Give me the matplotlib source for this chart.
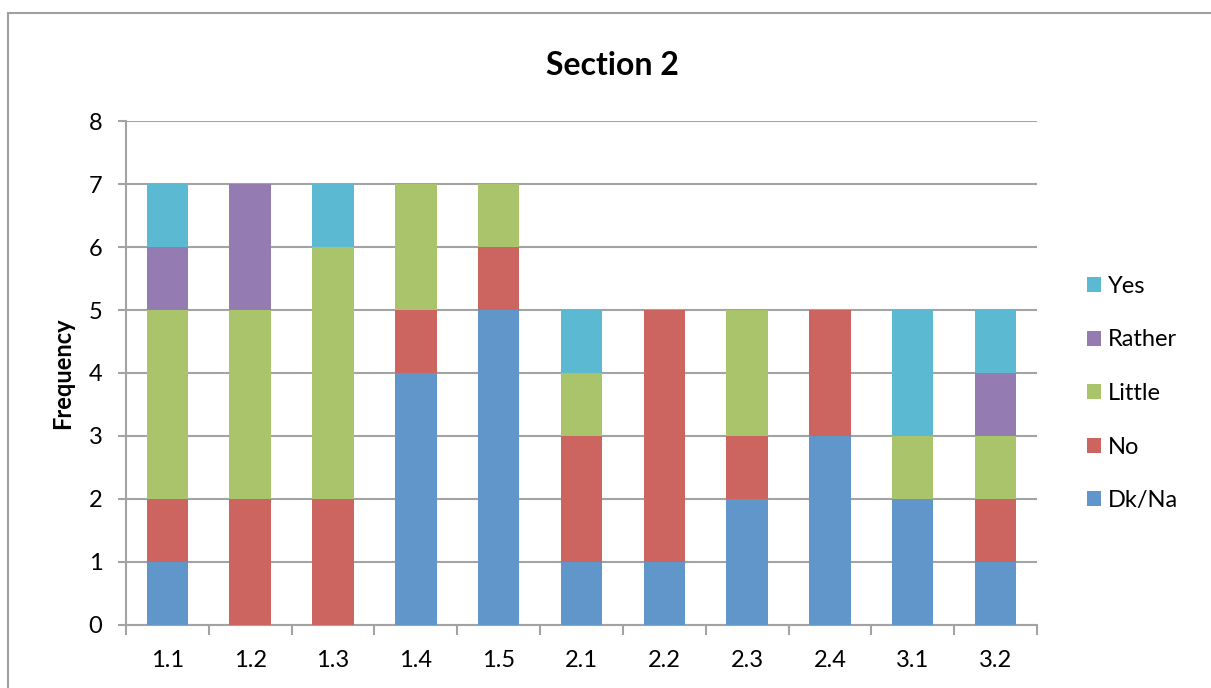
import numpy as np
import matplotlib.pyplot as plt
from matplotlib.patches import Rectangle

plt.rcParams['font.family'] = ['Lato', 'DejaVu Sans']

# questions on the x axis
categories = ['1.1', '1.2', '1.3', '1.4', '1.5', '2.1', '2.2', '2.3', '2.4', '3.1', '3.2']

# answer counts per question, stacked bottom to top
dk_na = [1, 0, 0, 4, 5, 1, 1, 2, 3, 2, 1]
no = [1, 2, 2, 1, 1, 2, 4, 1, 2, 0, 1]
little = [3, 3, 4, 2, 1, 1, 0, 2, 0, 1, 1]
rather = [1, 2, 0, 0, 0, 0, 0, 0, 0, 0, 1]
yes = [1, 0, 1, 0, 0, 1, 0, 0, 0, 2, 1]

series = [
    ('Dk/Na', dk_na, '#6096CA'),
    ('No', no, '#CC6460'),
    ('Little', little, '#A9C46B'),
    ('Rather', rather, '#947BB1'),
    ('Yes', yes, '#5CB9D2'),
]

grid_color = '#A3A3A3'

fig = plt.figure(figsize=(12.11, 6.88), dpi=100)
ax = fig.add_axes([0.1040, 0.0916, 0.7523, 0.7325])

x = np.arange(len(categories))
bottom = np.zeros(len(categories))
handles = []
for name, values, color in series:
    bars = ax.bar(x, values, width=0.5, bottom=bottom, color=color, label=name, zorder=3)
    handles.append(bars)
    bottom += np.array(values)

ax.set_xlim(-0.5, len(categories) - 0.5)
ax.set_ylim(0, 8)
ax.set_yticks(range(0, 9))
ax.yaxis.grid(True, color=grid_color, linewidth=1.5, zorder=0)

# category labels centred, tick marks between categories
ax.set_xticks(x)
ax.set_xticklabels(categories)
ax.set_xticks(np.arange(-0.5, len(categories)), minor=True)
ax.tick_params(axis='x', which='major', length=0, pad=18, labelsize=17)
ax.tick_params(axis='x', which='minor', length=7, width=1.5, color=grid_color)
ax.tick_params(axis='y', length=6, width=1.5, color=grid_color, pad=11, labelsize=17)

for side in ['top', 'right']:
    ax.spines[side].set_visible(False)
for side in ['left', 'bottom']:
    ax.spines[side].set_color(grid_color)
    ax.spines[side].set_linewidth(1.5)

ax.set_ylabel('Frequency', fontsize=17, fontweight='bold', labelpad=10)
fig.text(0.5055, 0.905, 'Section 2', fontsize=23, fontweight='bold', ha='center', va='center')

fig.legend(handles[::-1], [s[0] for s in series][::-1], loc='center left',
           bbox_to_anchor=(0.8975, 0.428), frameon=False, fontsize=17,
           handlelength=0.6, handleheight=0.6, handletextpad=0.3,
           labelspacing=1.38, borderpad=0, borderaxespad=0)

# chart frame
fig.patches.append(Rectangle((8 / 1211, -0.1), 1.2, 1.1 - 13 / 688, transform=fig.transFigure,
                             fill=False, edgecolor='#A0A0A0', linewidth=1.5))

fig.savefig('out.png', dpi=100)
